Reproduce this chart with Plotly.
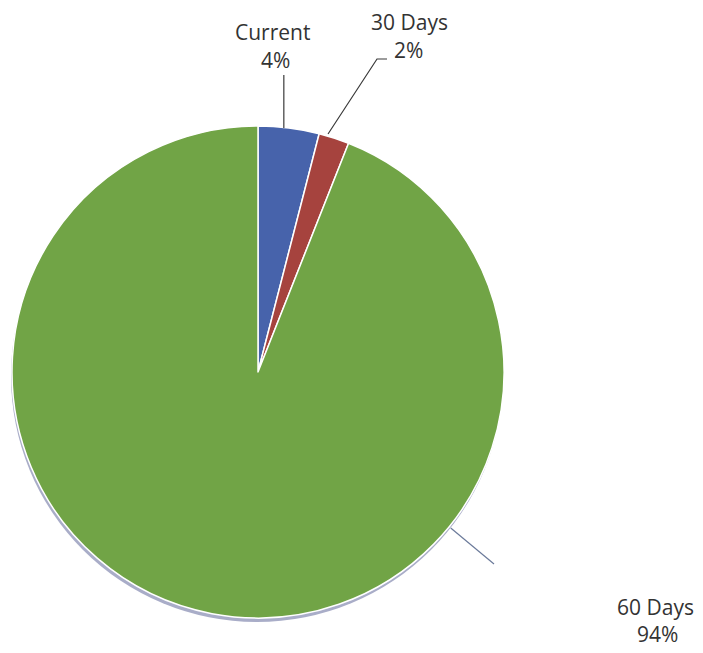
import math
import plotly.graph_objects as go

# Aging buckets and their share of the balance (%)
categories = ["Current", "30 Days", "60 Days"]
shares = [4, 2, 94]
colors = ["#4763ab", "#a6433e", "#71a446"]

W, H = 703, 653
CX, CY, R = 258, 372, 246  # pie centre and radius in pixels


def px(x):
    return x / W


def py(y):
    return 1 - y / H


def rim_point(deg, r=R):
    a = math.radians(deg)
    return CX + r * math.sin(a), CY - r * math.cos(a)


fig = go.Figure()

# soft drop shadow below the disc
fig.add_trace(go.Pie(
    values=[1], labels=["shadow"], marker=dict(colors=["#a9adc8"]),
    textinfo="none", hoverinfo="skip", showlegend=False, sort=False,
    domain=dict(x=[px(CX - R - 1), px(CX + R - 1)], y=[py(CY + R + 4), py(CY - R + 4)]),
))

fig.add_trace(go.Pie(
    labels=categories, values=shares, sort=False, direction="clockwise", rotation=0,
    marker=dict(colors=colors, line=dict(color="white", width=1.5)),
    textinfo="none", showlegend=False,
    domain=dict(x=[px(CX - R), px(CX + R)], y=[py(CY + R), py(CY - R)]),
))

# leader lines: the two small slices point from their mid angle, the large one from the lower right
total = sum(shares)
starts = [sum(shares[:i]) for i in range(len(shares))]
mid_deg = [360 * (s + v / 2) / total for s, v in zip(starts, shares)]

dark = dict(color="#3a3a3a", width=1.2)
shapes = []
x0, y0 = rim_point(mid_deg[0])
shapes.append(dict(type="line", xref="paper", yref="paper", line=dark,
                   x0=px(x0 - 5), y0=py(y0), x1=px(x0 - 5), y1=py(75)))
x1, y1 = rim_point(mid_deg[1])
shapes.append(dict(type="path", xref="paper", yref="paper", line=dark,
                   path=f"M {px(x1 - 6)} {py(y1 - 4)} L {px(377)} {py(59)} L {px(387)} {py(59)}"))
x2, y2 = rim_point(129, R + 2)
shapes.append(dict(type="line", xref="paper", yref="paper", line=dict(color="#6b7a9a", width=1.2),
                   x0=px(x2), y0=py(y2), x1=px(494), y1=py(564)))

# label blocks: name line and percentage line
name_pos = [(272, 32), (409, 22), (655, 607)]
pct_pos = [(275, 60), (408, 50), (657, 634)]
font = dict(family="Open Sans, Lato, sans-serif", size=21, color="#333333")
annotations = []
for name, val, (nx, ny), (qx, qy) in zip(categories, shares, name_pos, pct_pos):
    annotations.append(dict(x=px(nx), y=py(ny), xref="paper", yref="paper", showarrow=False,
                            xanchor="center", yanchor="middle", text=name, font=font))
    annotations.append(dict(x=px(qx), y=py(qy), xref="paper", yref="paper", showarrow=False,
                            xanchor="center", yanchor="middle", text=f"{val}%", font=font))

fig.update_layout(
    width=W, height=H, margin=dict(l=0, r=0, t=0, b=0),
    paper_bgcolor="white", plot_bgcolor="white",
    shapes=shapes, annotations=annotations,
)

fig.write_html("out.html")
